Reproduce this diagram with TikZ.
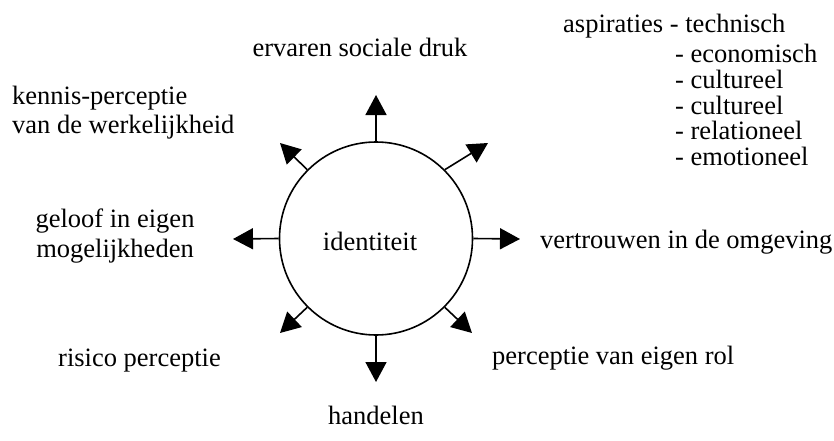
\documentclass[tikz,border=0pt]{standalone}
\usepackage{fontspec}
\setmainfont{Liberation Serif}
\usetikzlibrary{arrows.meta}
\usetikzlibrary{positioning}
\tikzset{
  tekst/.style={inner sep=0pt,font=\fontsize{26.5}{28}\selectfont},
  pijl/.style={line width=1.6pt,-{Triangle[length=20pt,width=21pt]}}
}

\begin{document}
\begin{tikzpicture}[x=1pt,y=-1pt]
\useasboundingbox (0,0) rectangle (834,441);
\node at (376,238.5)[circle,minimum size=193pt,inner sep=0pt,line width=1.6pt,draw=black](id){};
\node at (370,250)[tekst,anchor=base](idtekst){identiteit};
\coordinate (pboven) at (376,95);
\coordinate (ponder) at (376,382);
\coordinate (prechts) at (520,239);
\coordinate (plinks) at (233,239);
\coordinate (prb) at (488,143);
\coordinate (plb) at (280,143);
\coordinate (plo) at (280,333);
\coordinate (pro) at (472,333);
\draw[pijl] (id.90) -- (pboven);
\draw[pijl] (id.-90) -- (ponder);
\draw[pijl] (id.0) -- (prechts);
\draw[pijl] (id.180) -- (plinks);
\draw[pijl] (id.45) -- (prb);
\draw[pijl] (id.135) -- (plb);
\draw[pijl] (id.-135) -- (plo);
\draw[pijl] (id.-45) -- (pro);
\node at (360,57)[tekst,anchor=base](druk){ervaren sociale druk};
\node at (563,33)[tekst,anchor=base west](asp){aspiraties - technisch};
\node at (675,63)[tekst,anchor=base west](asp1){- economisch};
\node at (675,88.5)[tekst,anchor=base west](asp2){- cultureel};
\node at (675,114)[tekst,anchor=base west](asp3){- cultureel};
\node at (675,139.5)[tekst,anchor=base west](asp4){- relationeel};
\node at (675,165)[tekst,anchor=base west](asp5){- emotioneel};
\node at (12,105)[tekst,anchor=base west](kennis1){kennis-perceptie};
\node at (12,133)[tekst,anchor=base west](kennis2){van de werkelijkheid};
\node at (115,227)[tekst,anchor=base](geloof1){geloof in eigen};
\node at (115,257)[tekst,anchor=base](geloof2){mogelijkheden};
\node at (540,248)[tekst,anchor=base west](vertrouwen){vertrouwen in de omgeving};
\node at (492,364)[tekst,anchor=base west](rol){perceptie van eigen rol};
\node at (58,366)[tekst,anchor=base west](risico){risico perceptie};
\node at (376,424)[tekst,anchor=base](handelen){handelen};
\end{tikzpicture}
\end{document}
